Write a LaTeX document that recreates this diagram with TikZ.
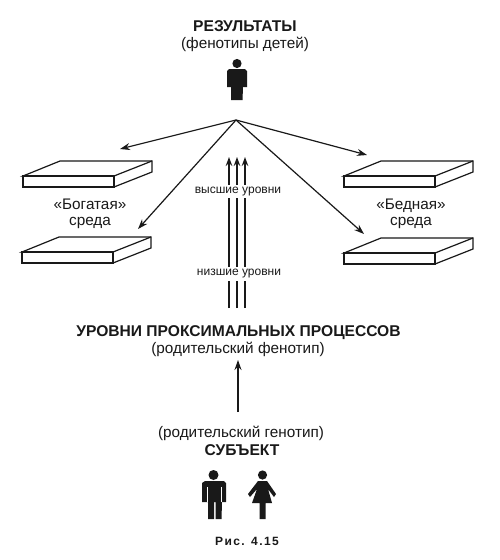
\documentclass[tikz,border=0pt]{standalone}
\usepackage{fontspec}
\setmainfont{Liberation Sans}
\usetikzlibrary{arrows.meta}
\definecolor{ink}{gray}{0.1}
\tikzset{
  lbl/.style={text=ink,inner sep=0pt,font=\fontsize{15.3}{16.5}\selectfont,align=center},
  hd/.style={text=ink,inner sep=0pt,font=\fontsize{15.6}{18}\bfseries\selectfont},
  small/.style={text=ink,fill=white,inner xsep=1pt,inner ysep=2.5pt,font=\fontsize{12}{14}\selectfont},
  slabline/.style={draw=ink,line width=1.2pt,line join=miter,fill=white},
  slabfront/.style={draw=ink,line width=1.8pt,fill=white},
  arr/.style={draw=ink,line width=1.2pt,-{Stealth[length=10pt,width=7pt]}},
  varr/.style={draw=ink,line width=1.6pt,-{Stealth[length=9pt,width=6.5pt]}},
  fig/.style={fill=ink,draw=none},
}
\newcommand{\slab}[2]{%
  \begin{scope}[shift={(#1,#2)}]
    \draw[slabline] (0,0) -- (37,-15) -- (129,-15) -- (129,-4) -- (91,11) -- (91,0) -- cycle;
    \draw[slabline] (91,0) -- (129,-15);
    \draw[slabfront] (0,0) rectangle (91,11);
  \end{scope}}
\begin{document}
\begin{tikzpicture}[x=1pt,y=-1pt]
\useasboundingbox (0,0) rectangle (500,560);
\fill[white] (0,0) rectangle (500,560);
\slab{23}{176}
\slab{22}{252}
\slab{344}{176}
\slab{344}{253}
\coordinate (apex) at (236,120);
\coordinate (tl) at (120,149);
\coordinate (bl) at (138,229);
\coordinate (tr) at (367,155);
\coordinate (br) at (364,234);
\draw[arr] (apex) -- (tl);
\draw[arr] (apex) -- (bl);
\draw[arr] (apex) -- (tr);
\draw[arr] (apex) -- (br);
\coordinate (a1) at (229,308); \coordinate (a2) at (229,157);
\coordinate (b1) at (237,308); \coordinate (b2) at (237,157);
\coordinate (c1) at (245,308); \coordinate (c2) at (245,157);
\draw[varr] (a1) -- (a2);
\draw[varr] (b1) -- (b2);
\draw[varr] (c1) -- (c2);
\node[small] (hi) at (238,191.5) {высшие уровни};
\node[small] (lo) at (239,274) {низшие уровни};
\node[hd] (res) at (245,26.5) {РЕЗУЛЬТАТЫ};
\node[lbl] (resb) at (245,44.5) {(фенотипы детей)};
\node[lbl] (rich) at (90,214) {«Богатая»\\среда};
\node[lbl] (poor) at (411,214) {«Бедная»\\среда};
\node[hd] (prox) at (238.5,333) {УРОВНИ ПРОКСИМАЛЬНЫХ ПРОЦЕССОВ};
\node[lbl] (proxb) at (238,349) {(родительский фенотип)};
\node[lbl] (gen) at (241,433) {(родительский генотип)};
\node[hd] (subj) at (242,450) {СУБЪЕКТ};
\node[text=ink,inner sep=0pt,font=\fontsize{12}{14}\bfseries\addfontfeatures{LetterSpace=12}] (cap) at (247,541) {Рис. 4.15};
\coordinate (g1) at (238,412); \coordinate (g2) at (238,360);
\draw[arr] (g1) -- (g2);
% top person
\fill[fig] (237,63.5) circle (4.6);
\fill[fig] (229,69) -- (245,69) -- (247,71) -- (247,87) -- (243,87) -- (242.5,100) -- (231,100) -- (231,87) -- (227,87) -- (227,71) -- cycle;
% man
\fill[fig] (213.5,475) circle (5);
\fill[fig] (205,481) -- (224,481) -- (226,483) -- (226,502) -- (222,502) -- (221.5,519) -- (215.5,519) -- (215.5,502) -- (214.2,502) -- (214.2,519) -- (208,519) -- (208,502) -- (202,502) -- (202,483) -- cycle;
\draw[white,line width=0.5pt] (207.5,487) -- (207.5,502) (221.5,487) -- (221.5,502);
% woman
\fill[fig] (262.5,475) circle (4.6);
\fill[fig] (258,481) -- (267,481) -- (276,494) -- (274,497) -- (268,489) -- (272,503) -- (265.5,503) -- (265.5,519) -- (259.5,519) -- (259.5,503) -- (252,503) -- (257,489) -- (250,497) -- (248,494) -- cycle;
\end{tikzpicture}
\end{document}
